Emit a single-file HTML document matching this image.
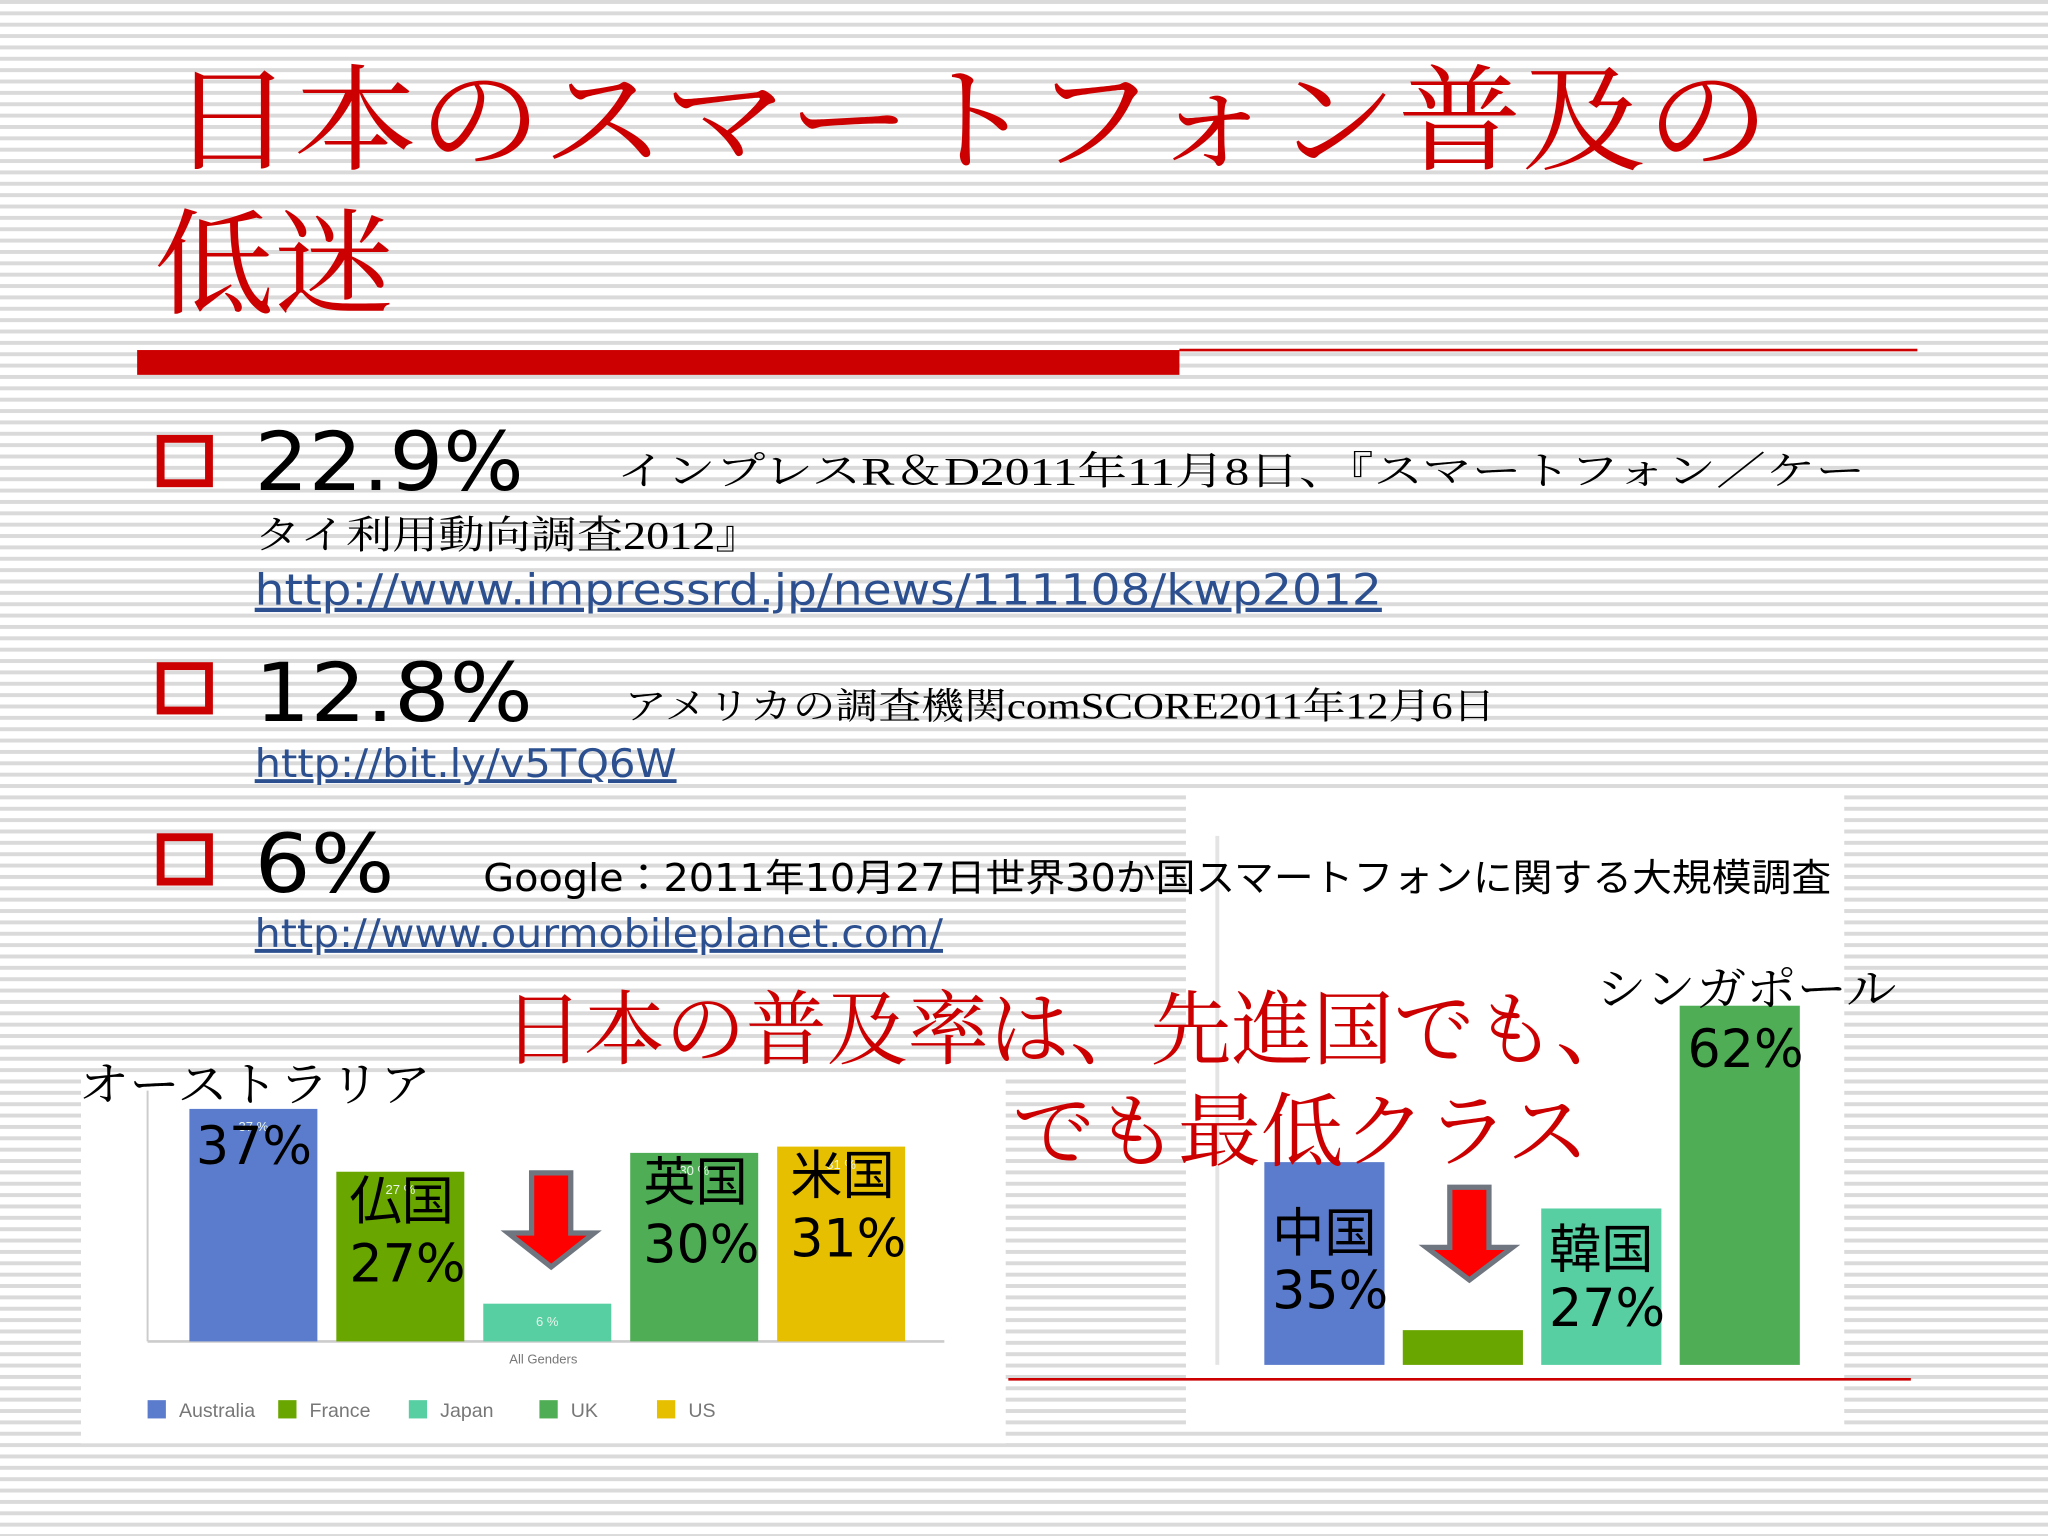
<!DOCTYPE html>
<html><head><meta charset="utf-8"><style>
html,body{margin:0;padding:0;width:2048px;height:1536px;overflow:hidden;background:#fff}
svg{display:block}
.serif{font-family:"Liberation Serif","Noto Serif CJK SC",serif}
.sans{font-family:"Liberation Sans","Noto Sans CJK JP",sans-serif}
.dv{font-family:"DejaVu Sans","Noto Sans CJK JP",sans-serif}
</style></head><body>
<svg width="2048" height="1536" viewBox="0 0 1568 1176">
<defs>
<pattern id="stripes" width="10" height="8.7" patternUnits="userSpaceOnUse">
<rect width="10" height="8.7" fill="#fff"/><rect y="0" width="10" height="3" fill="#dadada"/>
</pattern>
</defs>
<rect width="1568" height="1176" fill="url(#stripes)"/>
<g id="left-chart"></g>
<g id="right-chart"></g>
<line x1="772" y1="1056" x2="1463" y2="1056" stroke="#cc0000" stroke-width="2"/>
<g class="serif" fill="#cc0000">
<text x="130" y="123" font-size="88" textLength="1225" lengthAdjust="spacingAndGlyphs">日本のスマートフォン普及の</text>
<text x="118" y="233" font-size="88" textLength="184" lengthAdjust="spacingAndGlyphs">低迷</text>
</g>
<rect x="105" y="268" width="798" height="19" fill="#cc0000"/>
<rect x="903" y="267" width="565" height="2" fill="#cc0000"/>
<g>
<rect x="123" y="336" width="37" height="34" fill="none" stroke="#cc0000" stroke-width="6"/>
<text x="195" y="375" font-size="62" class="dv" fill="#000" textLength="206" lengthAdjust="spacingAndGlyphs">22.9%</text>
<text x="472" y="371" font-size="30" class="serif" fill="#000" textLength="956" lengthAdjust="spacingAndGlyphs">インプレスR＆D2011年11月8日、『スマートフォン／ケー</text>
<text x="195" y="420" font-size="30" class="serif" fill="#000" textLength="388" lengthAdjust="spacingAndGlyphs">タイ利用動向調査2012』</text>
<text x="195" y="463" font-size="33" class="dv" fill="#2b4f8f" text-decoration="underline" textLength="863" lengthAdjust="spacingAndGlyphs">http://www.impressrd.jp/news/111108/kwp2012</text>
</g>
<g>
<rect x="123" y="510" width="37" height="34" fill="none" stroke="#cc0000" stroke-width="6"/>
<text x="195" y="552" font-size="62" class="dv" fill="#000" textLength="213" lengthAdjust="spacingAndGlyphs">12.8%</text>
<text x="478" y="550" font-size="28" class="serif" fill="#000" textLength="667" lengthAdjust="spacingAndGlyphs">アメリカの調査機関comSCORE2011年12月6日</text>
<text x="195" y="595" font-size="30" class="dv" fill="#2b4f8f" text-decoration="underline" textLength="323" lengthAdjust="spacingAndGlyphs">http://bit.ly/v5TQ6W</text>
</g>
<g>
<rect x="123" y="641" width="37" height="34" fill="none" stroke="#cc0000" stroke-width="6"/>
<text x="195" y="683" font-size="62" class="dv" fill="#000" textLength="107" lengthAdjust="spacingAndGlyphs">6%</text>
<text x="370" y="682" font-size="29" class="dv" fill="#000" textLength="1032" lengthAdjust="spacingAndGlyphs">Google：2011年10月27日世界30か国スマートフォンに関する大規模調査</text>
<text x="195" y="725" font-size="30" class="dv" fill="#2b4f8f" text-decoration="underline" textLength="527" lengthAdjust="spacingAndGlyphs">http://www.ourmobileplanet.com/</text>
</g>
<g class="serif" fill="#cc0000">
<text x="385" y="810" font-size="62" textLength="868" lengthAdjust="spacingAndGlyphs">日本の普及率は、先進国でも、</text>
<text x="775" y="888" font-size="62" textLength="442" lengthAdjust="spacingAndGlyphs">でも最低クラス</text>
</g>
<text x="60" y="843" font-size="36" class="serif" fill="#000" textLength="270" lengthAdjust="spacingAndGlyphs">オーストラリア</text>
<text x="1222" y="770" font-size="36" class="serif" fill="#000" textLength="230" lengthAdjust="spacingAndGlyphs">シンガポール</text>
</svg>
<script>
const NS="http://www.w3.org/2000/svg";
const leftCategories=["Australia","France","Japan","UK","US"];
const leftValues=[37,27,6,30,31];
const leftColors=["#5b7ccc","#6aa600","#57cfa3","#4fae55","#e6c000"];
const leftLabels=["37%","仏国\n27%","","英国\n30%","米国\n31%"];
const rightCategories=["China","Japan","Korea","Singapore"];
const rightValues=[35,6,27,62];
const rightColors=["#5b7ccc","#6aa600","#57cfa3","#4fae55"];
const rightLabels=["中国\n35%","","韓国\n27%","62%"];
function mk(tag,attrs,parent){const e=document.createElementNS(NS,tag);for(const k in attrs)e.setAttribute(k,attrs[k]);parent.appendChild(e);return e;}
const L=document.getElementById('left-chart');
let bg=mk('rect',{x:62,y:825,width:708,height:280,fill:'#fff'},L);


const lBase=1027, lScale=178/37, lX=i=>145+i*112.5;
let ax=mk('line',{x1:113,y1:835,x2:113,y2:lBase,stroke:'#ccc','stroke-width':1.5},L);


let bl=mk('line',{x1:113,y1:lBase,x2:723,y2:lBase,stroke:'#ccc','stroke-width':2},L);


leftValues.forEach((v,i)=>{
 const h=v*lScale;
 const r=mk('rect',{x:lX(i),y:lBase-h,width:98,height:h,fill:leftColors[i]},L);
 
 
 const t=mk('text',{x:lX(i)+49,y:lBase-h+17,'font-size':10,'text-anchor':'middle',fill:'#e8f5e8',class:'sans'},L);
 t.textContent=v+' %';
 
 
 const lines=leftLabels[i].split('\n').filter(s=>s);
 lines.forEach((s,j)=>{
  const n=lines.length;
  const y = n===1 ? lBase-h+42 : lBase-h+(j===0?36:84);
  const tt=mk('text',{x:lX(i)+(i===0?5:10),y:y,'font-size':40,fill:'#000',class:'dv'},L);
  tt.textContent=s;
  
  
 });
 const lx=113+i*100+(i>=3?(i-3)*-10:0);
 const sq=mk('rect',{x:lx,y:1072,width:14,height:14,fill:leftColors[i]},L);
 
 
 const lt=mk('text',{x:lx+24,y:1085,'font-size':15,fill:'#777',class:'sans'},L);
 lt.textContent=leftCategories[i];
 
 
});
let ag=mk('text',{x:416,y:1044,'font-size':10,'text-anchor':'middle',fill:'#777',class:'sans'},L);
ag.textContent='All Genders';


function arrow(parent,x,top,tip,name){
 const p=mk('polygon',{points:`${x+16},${top} ${x+46},${top} ${x+46},${top+46} ${x+64},${top+46} ${x+31},${tip} ${x-2},${top+46} ${x+16},${top+46}`,fill:'#ff0000',stroke:'#6f7680','stroke-width':4},parent);
 
 
}
arrow(L,391,898,970,'left-down-arrow');
const R=document.getElementById('right-chart');
let bg2=mk('rect',{x:908,y:607,width:504,height:485,fill:'#fff'},R);


const rBase=1045, rScale=275/62, rX=i=>968+i*106;
let ax2=mk('line',{x1:932,y1:640,x2:932,y2:rBase,stroke:'#e4e4e4','stroke-width':3},R);


rightValues.forEach((v,i)=>{
 const h=v*rScale;
 const r=mk('rect',{x:rX(i),y:rBase-h,width:92,height:h,fill:rightColors[i]},R);
 
 
 const lines=rightLabels[i].split('\n').filter(s=>s);
 lines.forEach((s,j)=>{
  const n=lines.length;
  const y = n===1 ? rBase-h+47 : rBase-h+(j===0?(i===0?68:45):(i===0?112:90));
  const tt=mk('text',{x:rX(i)+6,y:y,'font-size':40,fill:'#000',class:'dv'},R);
  tt.textContent=s;
  
  
 });
});
arrow(R,1094,909,980,'right-down-arrow');
</script>
</body></html>
